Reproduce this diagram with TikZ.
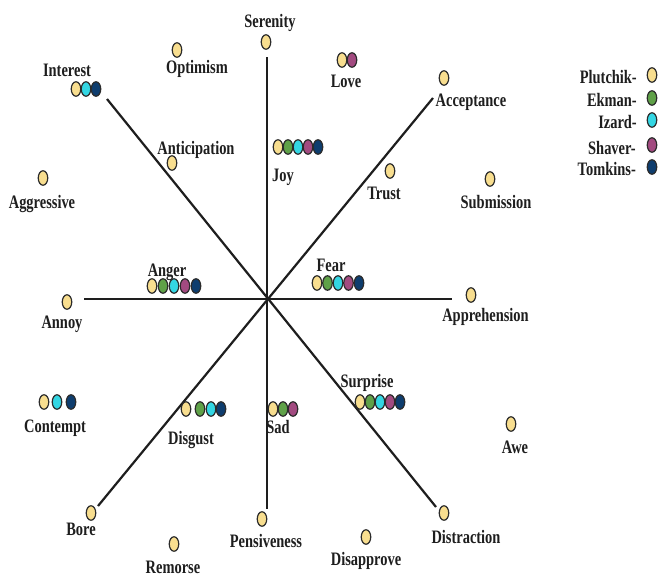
\documentclass[tikz,border=0pt]{standalone}
\usepackage{fontspec}
\setmainfont{Liberation Serif}
\usetikzlibrary{shapes.geometric}
\definecolor{cY}{HTML}{F8DE8F}
\definecolor{cG}{HTML}{5FA148}
\definecolor{cC}{HTML}{33D6E3}
\definecolor{cM}{HTML}{A24A80}
\definecolor{cN}{HTML}{0E3D6E}
\definecolor{dotline}{HTML}{2B2B2B}
\definecolor{ink}{HTML}{1E1E1E}
\tikzset{
  dot/.style={ellipse, draw=dotline, line width=1.2pt, minimum width=9.5pt, minimum height=14.5pt, inner sep=0pt},
  lab/.style={font=\fontsize{19}{19}\selectfont\bfseries, inner sep=0pt, anchor=base, text=ink},
  leg/.style={lab, anchor=base east},
  axis/.style={line width=2.2pt, draw=ink}
}
\newcommand{\sq}[1]{\scalebox{0.76}[1]{#1}}
\newcommand{\dt}[4]{\node[dot, fill=#4] (#1) at (#2,#3) {};}
\begin{document}
\begin{tikzpicture}[x=1pt,y=-1pt]
\useasboundingbox (0,0) rectangle (659,576);
\fill[white] (0,0) rectangle (659,576);
% axes
\coordinate (aN) at (267,57);  \coordinate (aS) at (267,509);
\coordinate (aW) at (84,299);  \coordinate (aE) at (452,299);
\coordinate (aNW) at (107,99); \coordinate (aSE) at (436,507);
\coordinate (aNE) at (433,98); \coordinate (aSW) at (98,506);
\draw[axis] (aN) -- (aS);
\draw[axis] (aW) -- (aE);
\draw[axis] (aNW) -- (aSE);
\draw[axis] (aNE) -- (aSW);
% single dots
\dt{dSer}{266}{42}{cY}
\dt{dOpt}{177}{50}{cY}
\dt{dAnt}{172}{163}{cY}
\dt{dAgg}{43}{178}{cY}
\dt{dAcc}{444}{78}{cY}
\dt{dTru}{390}{171}{cY}
\dt{dSub}{490}{179}{cY}
\dt{dAnn}{67}{302}{cY}
\dt{dApp}{471}{295}{cY}
\dt{dBor}{91}{513}{cY}
\dt{dRem}{174}{544}{cY}
\dt{dPen}{262}{519}{cY}
\dt{dAwe}{511}{424}{cY}
\dt{dDis}{444}{513}{cY}
\dt{dDap}{366}{537}{cY}
% groups
\dt{dInt1}{76}{89}{cY}\dt{dInt2}{86}{89}{cC}\dt{dInt3}{96}{89}{cN}
\dt{dJoy1}{278}{147}{cY}\dt{dJoy2}{288}{147}{cG}\dt{dJoy3}{298}{147}{cC}\dt{dJoy4}{308}{147}{cM}\dt{dJoy5}{318}{147}{cN}
\dt{dLov1}{342}{60}{cY}\dt{dLov2}{352}{60}{cM}
\dt{dAng1}{152}{286}{cY}\dt{dAng2}{163}{286}{cG}\dt{dAng3}{174}{286}{cC}\dt{dAng4}{185}{286}{cM}\dt{dAng5}{196}{286}{cN}
\dt{dFea1}{317}{283}{cY}\dt{dFea2}{327.5}{283}{cG}\dt{dFea3}{338}{283}{cC}\dt{dFea4}{348.5}{283}{cM}\dt{dFea5}{359}{283}{cN}
\dt{dSur1}{360}{402}{cY}\dt{dSur2}{370}{402}{cG}\dt{dSur3}{380}{402}{cC}\dt{dSur4}{390}{402}{cM}\dt{dSur5}{400}{402}{cN}
\dt{dCon1}{44}{402}{cY}\dt{dCon2}{57}{402}{cC}\dt{dCon3}{71}{402}{cN}
\dt{dDsg1}{186}{409}{cY}\dt{dDsg2}{200}{409}{cG}\dt{dDsg3}{211}{409}{cC}\dt{dDsg4}{221}{409}{cN}
\dt{dSad1}{273}{409}{cY}\dt{dSad2}{283}{409}{cG}\dt{dSad3}{293}{409}{cM}
% legend dots
\dt{lP}{652}{75}{cY}
\dt{lE}{652}{98}{cG}
\dt{lI}{652}{120}{cC}
\dt{lS}{652}{145}{cM}
\dt{lT}{652}{167}{cN}
% labels
\node[lab] (tSer) at (270,27) {\sq{Serenity}};
\node[lab] (tOpt) at (197,73) {\sq{Optimism}};
\node[lab] (tInt) at (67,76) {\sq{Interest}};
\node[lab] (tAnt) at (196,154) {\sq{Anticipation}};
\node[lab] (tJoy) at (283,181) {\sq{Joy}};
\node[lab] (tLov) at (346,87) {\sq{Love}};
\node[lab] (tAcc) at (471,106) {\sq{Acceptance}};
\node[lab] (tTru) at (384,199) {\sq{Trust}};
\node[lab] (tSub) at (496,208) {\sq{Submission}};
\node[lab] (tAgg) at (42,208) {\sq{Aggressive}};
\node[lab] (tAng) at (167,276) {\sq{Anger}};
\node[lab] (tAnn) at (62,328) {\sq{Annoy}};
\node[lab] (tFea) at (331,271) {\sq{Fear}};
\node[lab] (tApp) at (485.5,321) {\sq{Apprehension}};
\node[lab] (tSur) at (367,387) {\sq{Surprise}};
\node[lab] (tCon) at (55,432) {\sq{Contempt}};
\node[lab] (tDsg) at (191,444) {\sq{Disgust}};
\node[lab] (tSad) at (278,433) {\sq{Sad}};
\node[lab] (tBor) at (81,535) {\sq{Bore}};
\node[lab] (tPen) at (266,547) {\sq{Pensiveness}};
\node[lab] (tRem) at (173,573) {\sq{Remorse}};
\node[lab] (tAwe) at (515,453) {\sq{Awe}};
\node[lab] (tDis) at (466,543) {\sq{Distraction}};
\node[lab] (tDap) at (366,565) {\sq{Disapprove}};
% legend labels
\node[leg] (tP) at (637,83) {\sq{Plutchik-}};
\node[leg] (tE) at (637,106) {\sq{Ekman-}};
\node[leg] (tI) at (637,128) {\sq{Izard-}};
\node[leg] (tS) at (636,154) {\sq{Shaver-}};
\node[leg] (tT) at (636,175) {\sq{Tomkins-}};
\end{tikzpicture}
\end{document}
